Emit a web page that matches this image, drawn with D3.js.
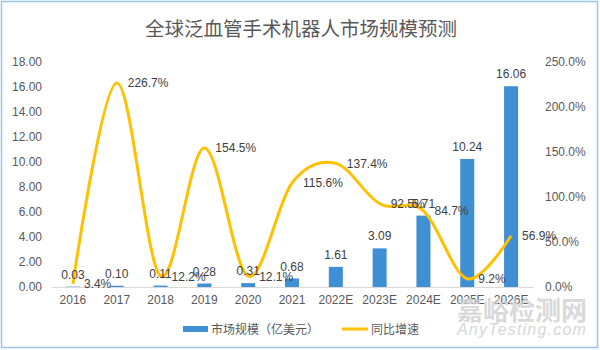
<!DOCTYPE html>
<html><head><meta charset="utf-8">
<script src="https://cdn.jsdelivr.net/npm/d3@7/dist/d3.min.js"></script>
<style>body{margin:0;background:#fff}svg{display:block}</style>
</head><body><svg id="c" width="600" height="350"></svg>
<script>
const categories = ["2016","2017","2018","2019","2020","2021","2022E","2023E","2024E","2025E","2026E"];
const marketSize = [0.03,0.10,0.11,0.28,0.31,0.68,1.61,3.09,5.71,10.24,16.06];
const growth = [3.4,226.7,12.2,154.5,12.1,115.6,137.4,92.5,84.7,9.2,56.9];
const leftTicks = [0,2,4,6,8,10,12,14,16,18];
const rightTicks = [0,50,100,150,200,250];
const title = "全球泛血管手术机器人市场规模预测";
const legendNames = ["市场规模（亿美元）","同比增速"];

const svg = d3.select("#c");
const font = "'Liberation Sans', Arial, 'Noto Sans CJK SC', sans-serif";
const txt = "#595959";
const barColor = "#3E8FD3", lineColor = "#FFC000";

svg.append("rect").attr("x",1.5).attr("y",1.5).attr("width",596).attr("height",346)
  .attr("fill","#fff").attr("stroke","#9DC3E6").attr("stroke-width",1.5);

svg.append("text").attr("x",301).attr("y",36).attr("text-anchor","middle")
  .attr("font-family","'Noto Sans CJK SC', sans-serif").attr("font-size",19.5).attr("fill",txt).text(title);

const L=51, R=533, T=62, B=287;
const x = d3.scaleBand().domain(categories).range([L,R]).paddingInner(0.68).paddingOuter(0.34);
const y = d3.scaleLinear().domain([0,18]).range([B,T]);
const y2 = d3.scaleLinear().domain([0,250]).range([B,T]);

// left axis
const la = svg.append("g").attr("transform",`translate(${L},0)`)
  .call(d3.axisLeft(y).tickValues(leftTicks).tickSize(0).tickPadding(9).tickFormat(d3.format(".2f")));
la.select(".domain").remove();
la.selectAll("text").attr("font-family",font).attr("font-size",12).attr("fill",txt);

// right axis
const ra = svg.append("g").attr("transform",`translate(${R},0)`)
  .call(d3.axisRight(y2).tickValues(rightTicks).tickSize(0).tickPadding(12).tickFormat(d=>d.toFixed(1)+"%"));
ra.select(".domain").remove();
ra.selectAll("text").attr("font-family",font).attr("font-size",12).attr("fill",txt);

// x axis
const xa = svg.append("g").attr("transform",`translate(0,${B})`)
  .call(d3.axisBottom(x).tickSize(0).tickPadding(8));
xa.select(".domain").attr("stroke","#D9D9D9");
xa.selectAll("text").attr("font-family",font).attr("font-size",12).attr("fill",txt);

// bars
svg.append("g").selectAll("rect").data(marketSize).join("rect")
  .attr("x",(d,i)=>x(categories[i])).attr("width",x.bandwidth())
  .attr("y",d=>y(d)).attr("height",d=>B-y(d)).attr("fill",barColor);

// line
const cx = i => x(categories[i]) + x.bandwidth()/2;
const line = d3.line().x((d,i)=>cx(i)).y(d=>y2(d)).curve(d3.curveCardinal.tension(0));
svg.append("path").datum(growth).attr("d",line).attr("fill","none")
  .attr("stroke",lineColor).attr("stroke-width",3);

// bar labels
svg.append("g").selectAll("text").data(marketSize).join("text")
  .attr("x",(d,i)=>cx(i)).attr("y",d=>y(d)-8).attr("text-anchor","middle")
  .attr("font-family",font).attr("font-size",12).attr("fill","#404040").text(d=>d.toFixed(2));

// line labels
svg.append("g").selectAll("text").data(growth).join("text")
  .attr("x",(d,i)=>cx(i)+11).attr("y",d=>y2(d)+4.5)
  .attr("font-family",font).attr("font-size",12).attr("fill","#404040").text(d=>d.toFixed(1)+"%");

// legend
const lg = svg.append("g");
lg.append("rect").attr("x",183).attr("y",326).attr("width",25).attr("height",6).attr("fill",barColor);
lg.append("text").attr("x",211).attr("y",333.5).attr("font-family","'Noto Sans CJK SC', sans-serif")
  .attr("font-size",12).attr("fill",txt).text(legendNames[0]);
lg.append("line").attr("x1",342).attr("x2",368).attr("y1",329).attr("y2",329)
  .attr("stroke",lineColor).attr("stroke-width",3);
lg.append("text").attr("x",371).attr("y",333.5).attr("font-family","'Noto Sans CJK SC', sans-serif")
  .attr("font-size",12).attr("fill",txt).text(legendNames[1]);

// watermark
svg.append("text").attr("x",522).attr("y",320).attr("text-anchor","middle")
  .attr("font-family","'Noto Sans CJK SC', sans-serif").attr("font-weight","bold").attr("font-size",26)
  .attr("fill","#D0D0D0").attr("opacity",0.8).text("嘉峪检测网");
svg.append("text").attr("x",522).attr("y",335).attr("text-anchor","middle")
  .attr("font-family",font).attr("font-style","italic").attr("font-size",16)
  .attr("fill","#D0D0D0").attr("opacity",0.85).attr("letter-spacing",1.2).text("AnyTesting.com");
</script></body></html>
